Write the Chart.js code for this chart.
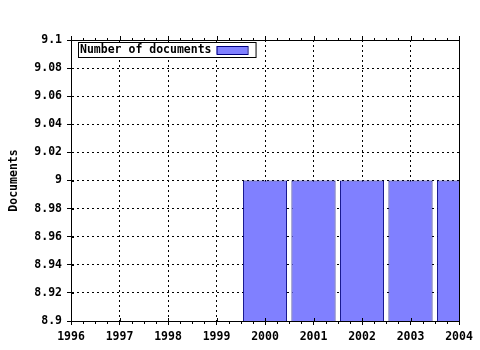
<!DOCTYPE html>
<html lang="en">
<head>
  <meta charset="UTF-8">
  <title>Number of documents</title>
  <script src="https://cdn.jsdelivr.net/npm/chart.js"></script>
  <style>
    html, body { margin: 0; padding: 0; background: #fff; }
    #wrap { width: 480px; height: 350px; }
  </style>
</head>
<body>
  <div id="wrap"><canvas id="docsChart"></canvas></div>
  <script>
    // data
    const years = [2000, 2001, 2002, 2003, 2004];
    const documents = [9, 9, 9, 9, 9];
    const seriesLabel = 'Number of documents';
    const yTitle = 'Documents';
    const xMin = 1996, xMax = 2004;
    const yMin = 8.9, yMax = 9.1, yStep = 0.02;

    const monoFont = { family: 'DejaVu Sans Mono', size: 11.5, weight: 'bold' };

    // frame, small tick marks and the legend box inside the plot
    const framePlugin = {
      id: 'frame',
      afterDraw(chart) {
        const { ctx, chartArea: a, scales } = chart;
        ctx.save();
        ctx.strokeStyle = '#000';
        ctx.lineWidth = 1;
        ctx.strokeRect(a.left + 0.5, a.top + 0.5, a.right - a.left, a.bottom - a.top);

        // x ticks: quarters on bottom (down) and top (up), majors cross inward
        ctx.beginPath();
        for (let v = xMin; v <= xMax + 1e-9; v += 0.25) {
          const px = Math.round(scales.x.getPixelForValue(v)) + 0.5;
          const major = Math.abs(v - Math.round(v)) < 1e-9;
          ctx.moveTo(px, a.bottom);
          ctx.lineTo(px, a.bottom + (major ? 0 : 3));
          if (major) { ctx.moveTo(px, a.bottom); ctx.lineTo(px, a.bottom - 3); }
          ctx.moveTo(px, a.top);
          ctx.lineTo(px, a.top - (major ? 4 : 2));
        }
        // y majors cross inward
        for (let v = yMin; v <= yMax + 1e-9; v += yStep) {
          const py = Math.round(scales.y.getPixelForValue(v)) + 0.5;
          ctx.moveTo(a.left, py);
          ctx.lineTo(a.left + 3, py);
        }
        ctx.stroke();

        // legend
        const ds = chart.data.datasets[0];
        ctx.font = 'bold 11.5px "DejaVu Sans Mono"';
        const tw = ctx.measureText(ds.label).width;
        const x = a.left + 7, y = a.top + 2;
        const w = tw + 46, h = 15;
        ctx.fillStyle = '#fff';
        ctx.fillRect(x, y, w, h);
        ctx.strokeRect(x + 0.5, y + 0.5, w, h);
        ctx.fillStyle = '#000';
        ctx.textBaseline = 'middle';
        ctx.fillText(ds.label, x + 2, y + h / 2 + 1);
        ctx.fillStyle = ds.backgroundColor;
        ctx.fillRect(x + w - 39, y + 4, 31, 8);
        ctx.strokeStyle = ds.borderColor;
        ctx.strokeRect(x + w - 39 + 0.5, y + 4.5, 31, 8);
        ctx.restore();
      }
    };

    new Chart(document.getElementById('docsChart'), {
      type: 'bar',
      data: {
        datasets: [{
          label: seriesLabel,
          data: years.map((yr, i) => ({ x: yr, y: documents[i] })),
          backgroundColor: '#8080ff',
          borderColor: '#000080',
          borderWidth: 1,
          barPercentage: 0.91,
          categoryPercentage: 1
        }]
      },
      options: {
        responsive: true,
        maintainAspectRatio: false,
        animation: false,
        layout: { padding: { top: 40, right: 21, left: 0, bottom: 0 } },
        plugins: { legend: { display: false }, tooltip: { enabled: false } },
        scales: {
          x: {
            type: 'linear',
            min: xMin,
            max: xMax,
            offset: false,
            grid: { offset: false, color: '#000', tickLength: 4 },
            border: { color: '#000', dash: [2, 3] },
            ticks: {
              stepSize: 1,
              color: '#000',
              font: monoFont,
              padding: 5,
              maxRotation: 0,
              callback: v => String(v)
            },
            afterFit: s => { s.height = 29; }
          },
          y: {
            min: yMin,
            max: yMax,
            grid: { color: '#000', tickLength: 4 },
            border: { color: '#000', dash: [2, 3] },
            ticks: {
              stepSize: yStep,
              color: '#000',
              font: monoFont,
              padding: 5,
              callback: v => String(Number(v.toFixed(2)))
            },
            title: {
              display: true,
              text: yTitle,
              color: '#000',
              font: monoFont,
              padding: { top: 7, bottom: 0 }
            },
            afterFit: s => { s.width = 71; }
          }
        }
      },
      plugins: [framePlugin]
    });
  </script>
</body>
</html>
